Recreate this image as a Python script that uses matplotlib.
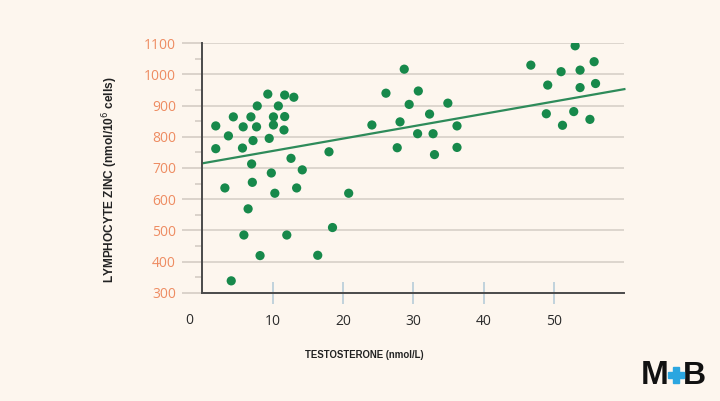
import matplotlib
matplotlib.use("Agg")
import matplotlib.pyplot as plt
from matplotlib.ticker import MultipleLocator
from matplotlib.patches import Rectangle

# Data
testosterone = [9.3, 11.7, 13.0, 7.8, 10.8, 4.4, 6.9, 10.1, 11.7, 1.9,
                5.8, 7.7, 10.1, 11.6, 3.7, 7.2, 9.5, 1.9, 5.7, 12.6,
                7.0, 14.2, 9.8, 3.2, 7.1, 10.3, 13.4, 6.5, 5.9, 12.0,
                8.2, 4.1, 18.0, 20.8, 18.5, 16.4, 24.1, 26.1, 28.7, 30.7,
                29.4, 28.1, 27.7, 32.3, 30.6, 32.8, 33.0, 34.9, 36.2, 36.2,
                46.7, 53.0, 55.7, 51.0, 53.7, 49.1, 53.7, 55.9, 48.9, 52.8,
                51.2, 55.1]
zinc = [937, 934, 927, 899, 899, 864, 864, 864, 865, 835,
        832, 832, 838, 822, 803, 788, 795, 762, 764, 731,
        713, 694, 684, 636, 654, 619, 636, 569, 485, 485,
        419, 338, 752, 619, 509, 420, 838, 940, 1017, 947,
        904, 848, 765, 873, 810, 810, 743, 908, 835, 766,
        1030, 1092, 1041, 1009, 1014, 966, 958, 971, 874, 881,
        837, 856]
fit_x = [0, 60]
fit_y = [715, 953]

x_ticks = [10, 20, 30, 40, 50]
x_tick_labels = ["10", "20", "30", "40", "50"]
y_ticks = [300, 400, 500, 600, 700, 800, 900, 1000, 1100]

bg = "#FDF6EE"
W, H = 720, 401
fig = plt.figure(figsize=(7.2, 4.01), dpi=100, facecolor=bg)
ax = fig.add_axes([0.2811, 0.2701, 0.5861, 0.6219])
ax.set_facecolor(bg)

ax.set_xlim(0, 60)
ax.set_ylim(300, 1100)

for yv in y_ticks[1:]:
    ax.axhline(yv, color="#DAD3CB", lw=1.3, zorder=1)

ax.plot(fit_x, fit_y, color="#2E8B5A", lw=1.6, zorder=2, clip_on=False)
ax.scatter(testosterone, zinc, s=44, color="#17894B", edgecolors="none", zorder=3)

for s in ["top", "right"]:
    ax.spines[s].set_visible(False)
for s in ["left", "bottom"]:
    ax.spines[s].set_color("#4A4A4A")
    ax.spines[s].set_linewidth(1.4)
    ax.spines[s].set_zorder(4)

ax.set_yticks(y_ticks)
ax.set_yticklabels([str(v) for v in y_ticks])
ax.yaxis.set_minor_locator(MultipleLocator(50))
ax.tick_params(axis="y", which="major", length=14.5, width=1.2, color="#D5CDC4",
               labelcolor="#EE8C62", labelsize=10, pad=4.5)
ax.tick_params(axis="y", which="minor", length=5, width=1.2, color="#D5CDC4")

ax.set_xticks(x_ticks)
ax.set_xticklabels(x_tick_labels)
ax.tick_params(axis="x", which="major", direction="inout", length=16, width=1.2,
               color="#B7CCD9", labelcolor="#2B2B2B", labelsize=10, pad=7)
for lab in ax.get_xticklabels() + ax.get_yticklabels():
    lab.set_fontfamily("Open Sans")

fig.text(189 / W, 1 - 321 / H, "0", ha="center", va="center",
         fontsize=10, color="#2B2B2B", family="Open Sans")

fig.text(110 / W, 1 - 180 / H, "LYMPHOCYTE ZINC (nmol/10$^6$ cells)", rotation=90,
         ha="center", va="center", fontsize=8.6, fontweight="bold",
         color="#222222", family="Liberation Sans")
fig.text(364 / W, 1 - 355 / H, "TESTOSTERONE (nmol/L)", ha="center", va="center",
         fontsize=6.9, fontweight="bold", color="#222222", family="Liberation Sans")

# Logo
fig.text(655 / W, 1 - 376 / H, "M", ha="center", va="center", fontsize=24,
         fontweight="bold", color="#111111", family="Liberation Sans")
fig.text(694 / W, 1 - 376 / H, "B", ha="center", va="center", fontsize=23,
         fontweight="bold", color="#111111", family="Liberation Sans")
cx, cy, arm, th = 676, 375, 8, 6
fig.patches.append(Rectangle(((cx - arm) / W, 1 - (cy + th / 2) / H), 2 * arm / W, th / H,
                             transform=fig.transFigure, color="#2BA6E0", zorder=5))
fig.patches.append(Rectangle(((cx - th / 2) / W, 1 - (cy + arm) / H), th / W, 2 * arm / H,
                             transform=fig.transFigure, color="#2BA6E0", zorder=5))

fig.savefig("out.png", dpi=100, facecolor=bg)
